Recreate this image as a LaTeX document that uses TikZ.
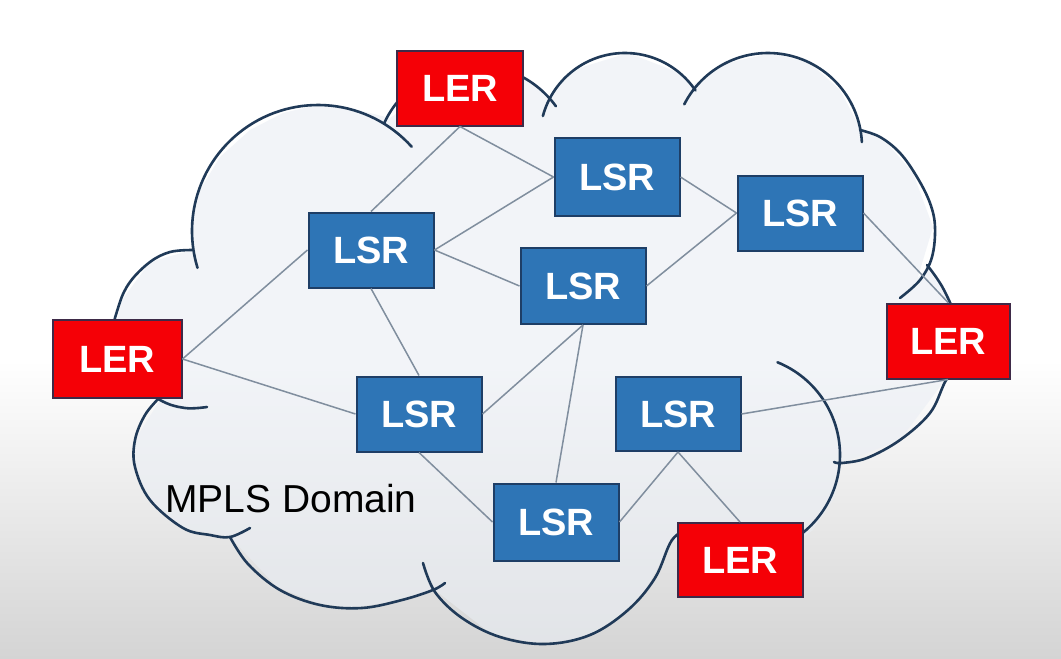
\documentclass[tikz,border=0pt]{standalone}
\usepackage{fontspec}
\setmainfont{Liberation Sans}
\definecolor{lsrblue}{RGB}{46,117,182}
\definecolor{lsredge}{RGB}{30,62,102}
\definecolor{lerred}{RGB}{245,0,6}
\definecolor{leredge}{RGB}{62,42,72}
\definecolor{cloudline}{RGB}{32,58,88}
\definecolor{cloudfill}{RGB}{234,238,244}
\definecolor{linkgray}{RGB}{128,142,158}
\definecolor{floorgray}{RGB}{212,212,212}
\tikzset{
    mpls net/.style  = {x=1pt, y=-1pt},
    router/.style    = {draw, line width=2pt, inner sep=0pt,
                        minimum width=125pt, minimum height=76pt,
                        text=white, font=\fontsize{38}{40}\selectfont\bfseries},
    ler/.style       = {router, fill=lerred, draw=leredge},
    lsr/.style       = {router, fill=lsrblue, draw=lsredge},
    link/.style      = {draw=linkgray, line width=1.5pt},
    cloud edge/.style = {draw=cloudline, line width=2.6pt, line cap=round},
    lobe/.style      = {smooth, tension=0.6}
}
% circular lobe: centre x, centre y, radius, from angle, to angle
\newcommand{\cloudlobe}[5]{%
    \draw[cloud edge] plot[domain=#4:#5, samples=60]
        ({#1+#3*cos(\x)}, {#2-#3*sin(\x)});
}

\begin{document}
\begin{tikzpicture}[mpls net]

% Backdrop: white slide fading to grey at the bottom.
\useasboundingbox (0,0) rectangle (1061,659);
\fill[white] (0,0) rectangle (1061,659);
\shade[top color=white, bottom color=floorgray] (0,360) rectangle (1061,659);

% The MPLS domain cloud, one lobe at a time.
\fill[cloudfill, fill opacity=0.6] plot coordinates {
    (192,223) (200,190) (220,157) (250,130) (283,113) (317,105) (350,108)
    (390,118) (460,70) (523,78) (550,97) (573,70) (628,53) (680,73)
    (693,85) (727,63) (772,53) (810,63) (840,90) (860,128) (887,143)
    (913,173) (933,227) (917,280) (900,297) (927,268) (950,300) (960,340)
    (945,380) (900,440) (842,463) (835,497) (813,530) (760,570) (673,540)
    (640,600) (607,627) (567,642) (533,643) (490,633) (435,590) (390,602)
    (350,608) (317,603) (277,587) (230,537) (183,528) (150,500) (135,467)
    (135,440) (160,400) (125,375) (112,340) (122,300) (150,262) (192,250)} -- cycle;
\cloudlobe{318}{231}{126}{42}{197}
\cloudlobe{475}{165}{100}{36}{155}
\cloudlobe{625}{138}{85}{34}{165}
\cloudlobe{768}{147}{94}{3}{153}
\cloudlobe{740}{455}{100}{-62}{68}
\draw[cloud edge] plot[lobe] coordinates {(860,130) (880,137) (900,153) (917,177)
    (930,203) (935,227) (932,257) (920,280) (900,298)};
\draw[cloud edge] plot[lobe] coordinates {(927,265) (944,290) (960,330) (958,360)
    (945,382) (930,413) (900,440) (867,458) (842,463) (834,462)};
\draw[cloud edge] plot[lobe] coordinates {(423,563) (435,592) (462,618) (500,637)
    (545,644) (590,635) (628,610) (655,578) (672,540) (690,528)};
\draw[cloud edge] plot[lobe] coordinates {(230,537) (248,564) (280,590) (320,605)
    (362,608) (402,600) (433,590) (445,583)};
\draw[cloud edge] plot[lobe] coordinates {(160,397) (145,415) (135,440) (135,467)
    (150,500) (183,528) (210,535) (230,537) (250,528)};
\draw[cloud edge] plot[lobe] coordinates {(192,250) (170,252) (150,262) (130,282)
    (119,305) (112,340) (125,375) (160,400) (185,408) (207,407)};

\node[anchor=base west, inner sep=0pt, font=\fontsize{39}{40}\selectfont]
    (domain) at (165,512) {MPLS Domain};

% Edge routers
\node[ler, minimum width=126pt, minimum height=75pt] (lerT) at (460,88) {LER};
\node[ler, minimum width=129pt, minimum height=78pt] (lerL) at (117,359) {LER};
\node[ler, minimum width=123pt, minimum height=75pt] (lerR) at (948,341) {LER};
\node[ler, minimum height=74pt] (lerB) at (740,560) {LER};

% Core switching routers
\node[lsr, minimum height=78pt] (lsrT) at (617,177) {LSR};
\node[lsr, minimum height=75pt] (lsrL) at (371,250) {LSR};
\node[lsr] (lsrM) at (583,286) {LSR};
\node[lsr, minimum height=75pt] (lsrR) at (800,213) {LSR};
\node[lsr, minimum height=75pt] (lsrBL) at (419,414) {LSR};
\node[lsr, minimum height=74pt] (lsrBR) at (678,414) {LSR};
\node[lsr, minimum height=77pt] (lsrB) at (556,522) {LSR};

% Links
\draw[link] (lerT.south) -- (lsrL.north);
\draw[link] (lerT.south) -- (lsrT.west);
\draw[link] (lsrL.east) -- (lsrT.west);
\draw[link] (lsrL.east) -- (lsrM.west);
\draw[link] (lerL.east) -- (lsrL.west);
\draw[link] (lerL.east) -- (lsrBL.west);
\draw[link] (lsrL.south) -- (lsrBL.north);
\draw[link] (lsrT.east) -- (lsrR.west);
\draw[link] (lsrM.east) -- (lsrR.west);
\draw[link] (lsrM.south) -- (lsrBL.east);
\draw[link] (lsrM.south) -- (lsrB.north);
\draw[link] (lsrR.east) -- (lerR.north);
\draw[link] (lsrBR.east) -- (lerR.south);
\draw[link] (lsrBR.south) -- (lsrB.east);
\draw[link] (lsrBR.south) -- (lerB.north);
\draw[link] (lsrBL.south) -- (lsrB.west);

\end{tikzpicture}
\end{document}
